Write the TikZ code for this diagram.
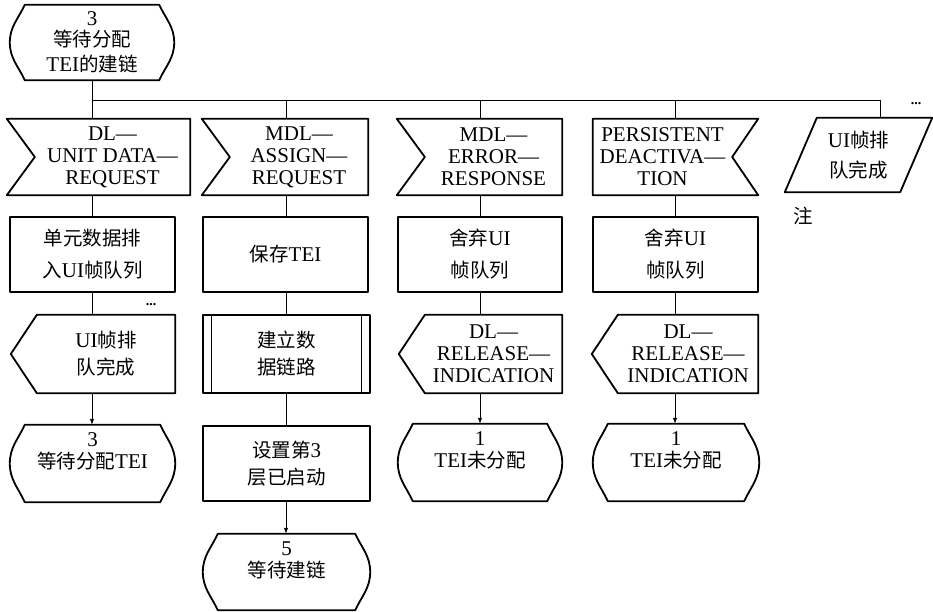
\documentclass[tikz,border=0pt]{standalone}
\usepackage{fontspec}
\setmainfont{Liberation Serif}
\newfontfamily\cjk{Noto Sans CJK SC}
\usetikzlibrary{calc,arrows.meta}
\newcommand\zh[1]{{\cjk\fontsize{19.5}{22}\selectfont #1}}
\begin{document}
\begin{tikzpicture}[x=1pt,y=1pt,
  box/.style={inner sep=0pt, align=center, font=\fontsize{21}{22}\selectfont},
  sz/.style 2 args={minimum width=#1pt, minimum height=#2pt},
  shp/.style={line width=1.8pt, line join=round},
  conn/.style={line width=0.9pt},
  arr/.style={conn,-{Latex[length=6pt,width=4.5pt]}},
  lbl/.style={inner sep=0pt, align=center, font=\fontsize{21}{22}\selectfont, anchor=north},
  dots/.style={inner sep=0pt, font=\bfseries\fontsize{14}{14}\selectfont}]
\useasboundingbox (0,0) rectangle (933,-612);

% top state
\node[box,sz={164}{75}] (s0) at (92,-42.5) {3\\[-1pt]\zh{等待分配}\\[3pt]TEI\zh{的建链}};

% row 1: inputs
\node[box,sz={155}{76}] (i1) at (112.5,-157) {DL—\\UNIT DATA—\\REQUEST};
\node[box,sz={138}{76}] (i2) at (299,-157) {MDL—\\ASSIGN—\\REQUEST};
\node[box,sz={137}{76}] (i3) at (493.5,-157) {MDL—\\ERROR—\\RESPONSE};
\node[box,sz={139}{76}] (i4) at (662.5,-157) {PERSISTENT\\DEACTIVA—\\TION};
\node[box,sz={115}{74}] (par) at (858.5,-155) {UI\zh{帧排}\\[8pt]\zh{队完成}};

% row 2: tasks
\node[box,sz={165}{75}] (t1) at (92.5,-254.5) {\zh{单元数据排}\\[10pt]\zh{入}UI\zh{帧队列}};
\node[box,sz={165}{75}] (t2) at (285.5,-254.5) {\zh{保存}TEI};
\node[box,sz={164}{75}] (t3) at (480,-254.5) {\zh{舍弃}UI\\[10pt]\zh{帧队列}};
\node[box,sz={165}{75}] (t4) at (675.5,-254.5) {\zh{舍弃}UI\\[10pt]\zh{帧队列}};

% row 3
\node[box,sz={138}{78}] (o1) at (106,-354) {UI\zh{帧排}\\[5pt]\zh{队完成}};
\node[box,sz={167}{78}] (p2) at (286.5,-354) {\zh{建立数}\\[5pt]\zh{据链路}};
\node[box,sz={137}{78}] (o3) at (493.5,-354) {DL—\\RELEASE—\\INDICATION};
\node[box,sz={140}{78}] (o4) at (688,-354) {DL—\\RELEASE—\\INDICATION};

% row 4
\node[box,sz={165}{77},label={[lbl,yshift=-8pt]north:3\\[0pt]\zh{等待分配}TEI}] (s1) at (92.5,-463.5) {};
\node[box,sz={167}{75}] (t5) at (286.5,-463.5) {\zh{设置第}3\\[5pt]\zh{层已启动}};
\node[box,sz={164}{77},label={[lbl,yshift=-8pt]north:1\\[0pt]TEI\zh{未分配}}] (s3) at (480,-462.5) {};
\node[box,sz={166}{77},label={[lbl,yshift=-8pt]north:1\\[0pt]TEI\zh{未分配}}] (s4) at (676,-462.5) {};

% row 5
\node[box,sz={167}{76},label={[lbl,yshift=-8pt]north:5\\[0pt]\zh{等待建链}}] (s5) at (286.5,-572) {};

% extra texts
\node[dots] (d1) at (151,-305) {...};
\node[dots] (d2) at (916,-104) {...};
\node[inner sep=0pt] (note) at (803,-216) {\zh{注}};

% outlines: states
\foreach \n in {s0,s1,s3,s4,s5} {
  \draw[shp] ($(\n.north west)+(15,0)$) -- ($(\n.north east)+(-15,0)$)
     to[out=-65,in=90] (\n.east) to[out=-90,in=65] ($(\n.south east)+(-15,0)$)
     -- ($(\n.south west)+(15,0)$) to[out=115,in=-90] (\n.west)
     to[out=90,in=-115] ($(\n.north west)+(15,0)$) -- cycle;
}
% inputs
\foreach \n in {i1,i2,i3} {
  \draw[shp] ($(\n.north west)+(-28,0)$) -- (\n.north east) -- (\n.south east)
     -- ($(\n.south west)+(-28,0)$) -- (\n.west) -- cycle;
}
\draw[shp] (i4.north west) -- ($(i4.north east)+(26,0)$) -- (i4.east)
   -- ($(i4.south east)+(26,0)$) -- (i4.south west) -- cycle;
% parallelogram
\draw[shp] ($(par.north west)+(16,0)$) -- ($(par.north east)+(16,0)$)
   -- ($(par.south east)+(-16,0)$) -- ($(par.south west)+(-16,0)$) -- cycle;
% tasks
\foreach \n in {t1,t2,t3,t4,t5} {
  \draw[shp] (\n.north west) rectangle (\n.south east);
}
% outputs
\foreach \n in {o1,o3,o4} {
  \draw[shp] (\n.north west) -- (\n.north east) -- (\n.south east)
     -- (\n.south west) -- ($(\n.west)+(-26,0)$) -- cycle;
}
% procedure call
\draw[shp] (p2.north west) rectangle (p2.south east);
\draw[line width=1.2pt] ($(p2.north west)+(9,0)$) -- ($(p2.south west)+(9,0)$);
\draw[line width=1.2pt] ($(p2.north east)+(-9,0)$) -- ($(p2.south east)+(-9,0)$);

% connectors
\coordinate (c1) at (92,-100);
\coordinate (c2) at (286,-100);
\coordinate (c3) at (480,-100);
\coordinate (c4) at (675,-100);
\coordinate (cR) at (880,-100);
\draw[conn] (s0.south) -- (c1) -- (cR) -- (cR |- par.north);
\draw[conn] (c1) -- (c1 |- i1.north);
\draw[conn] (c2) -- (c2 |- i2.north);
\draw[conn] (c3) -- (c3 |- i3.north);
\draw[conn] (c4) -- (c4 |- i4.north);

\draw[conn] (c1 |- i1.south) -- (c1 |- t1.north);
\draw[conn] (c1 |- t1.south) -- (c1 |- o1.north);
\draw[arr] (c1 |- o1.south) -- (c1 |- s1.north);

\draw[conn] (c2 |- i2.south) -- (c2 |- t2.north);
\draw[conn] (c2 |- t2.south) -- (c2 |- p2.north);
\draw[conn] (c2 |- p2.south) -- (c2 |- t5.north);
\draw[arr] (c2 |- t5.south) -- (c2 |- s5.north);

\draw[conn] (c3 |- i3.south) -- (t3.north);
\draw[conn] (t3.south) -- (c3 |- o3.north);
\draw[arr] (c3 |- o3.south) -- (s3.north);

\draw[conn] (c4 |- i4.south) -- (c4 |- t4.north);
\draw[conn] (c4 |- t4.south) -- (c4 |- o4.north);
\draw[arr] (c4 |- o4.south) -- (c4 |- s4.north);
\end{tikzpicture}
\end{document}
